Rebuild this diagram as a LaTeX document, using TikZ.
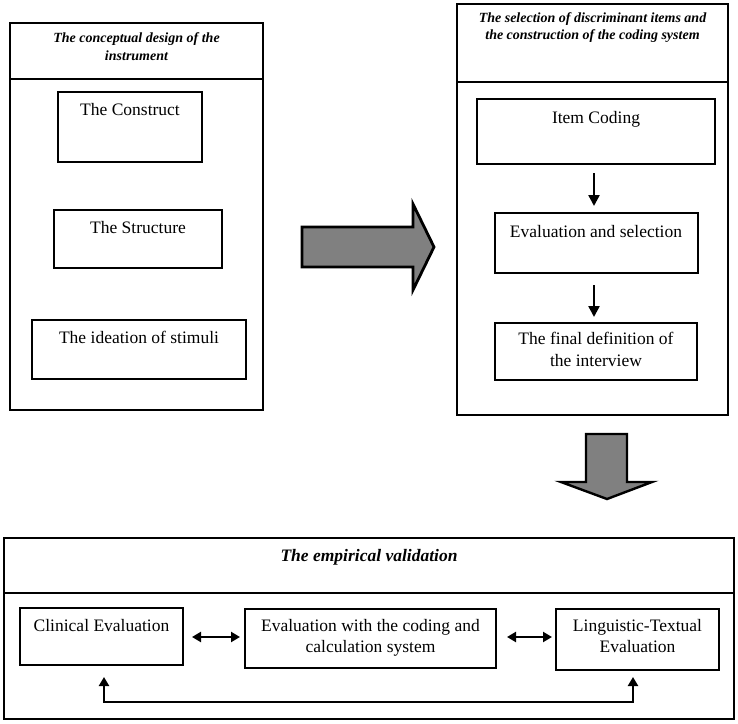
\documentclass[tikz,border=0pt]{standalone}
\usepackage{fontspec}
\setmainfont{Liberation Serif}
\usetikzlibrary{arrows.meta}
\begin{document}
\begin{tikzpicture}[x=1pt,y=-1pt,
  outerbox/.style={draw, line width=2.4pt, inner sep=0pt},
  innerbox/.style={draw, line width=2pt, inner sep=0pt},
  hdr/.style={font=\fontsize{14}{17.5}\selectfont\bfseries\itshape, align=center, inner sep=0pt, anchor=north},
  bighdr/.style={font=\fontsize{17.5}{21}\selectfont\bfseries\itshape, align=center, inner sep=0pt, anchor=north},
  txt/.style={font=\fontsize{17.5}{22}\selectfont, align=center, inner sep=0pt, anchor=north},
  btxt/.style={font=\fontsize{17.5}{21.5}\selectfont, align=center, inner sep=0pt, anchor=north},
  blockarrow/.style={draw=black, fill=gray, line width=2.8pt, line join=miter},
  flow/.style={line width=2.4pt, -{Triangle[length=11pt,width=11pt]}},
  dbl/.style={line width=2.2pt, {Triangle[length=9pt,width=10pt]}-{Triangle[length=9pt,width=10pt]}}
]
\useasboundingbox (0,0) rectangle (738,723);

% ---------- left panel ----------
\node[outerbox, minimum width=253pt, minimum height=56pt] (lhead) at (136.5,51) {};
\node[outerbox, minimum width=253pt, minimum height=331pt] (lbody) at (136.5,244.5) {};
\node[hdr] (lheadT) at ([yshift=-11pt]lhead.north) {The conceptual design of the\\instrument};

\node[innerbox, minimum width=144pt, minimum height=70pt] (construct) at (130,127) {};
\node[txt] (constructT) at ([yshift=-12pt]construct.north) {The Construct};
\node[innerbox, minimum width=168pt, minimum height=58pt] (structure) at (138,239) {};
\node[txt] (structureT) at ([yshift=-12pt]structure.north) {The Structure};
\node[innerbox, minimum width=214pt, minimum height=59pt] (ideation) at (139,349.5) {};
\node[txt] (ideationT) at ([yshift=-12pt]ideation.north) {The ideation of stimuli};

% ---------- right panel ----------
\node[outerbox, minimum width=271pt, minimum height=78pt] (rhead) at (592.5,43) {};
\node[outerbox, minimum width=271pt, minimum height=333pt] (rbody) at (592.5,248.5) {};
\node[hdr] (rheadT) at ([yshift=-9.5pt]rhead.north) {The selection of discriminant items and\\the construction of the coding system};

\node[innerbox, minimum width=238pt, minimum height=65pt] (itemc) at (596,131.5) {};
\node[txt] (itemcT) at ([yshift=-13pt]itemc.north) {Item Coding};
\node[innerbox, minimum width=203pt, minimum height=60pt] (evalsel) at (596,243) {};
\node[txt] (evalselT) at ([yshift=-13pt]evalsel.north) {Evaluation and selection};
\node[innerbox, minimum width=202pt, minimum height=57pt] (final) at (596,351.5) {};
\node[txt] (finalT) at ([yshift=-10pt]final.north) {The final definition of\\the interview};

\draw[flow, shorten <=8pt, shorten >=6pt] ([xshift=-2pt]itemc.south) -- ([xshift=-2pt]evalsel.north);
\draw[flow, shorten <=11pt, shorten >=5pt] ([xshift=-2pt]evalsel.south) -- ([xshift=-2pt]final.north);

% ---------- block arrows ----------
\draw[blockarrow] (302,227) -- (413,227) -- (413,204) -- (434,247) -- (413,290) -- (413,267) -- (302,267) -- cycle;
\draw[blockarrow, line width=2.4pt] (586,434) -- (627,434) -- (627,482) -- (652,482) -- (607,499) -- (561,482) -- (586,482) -- cycle;

% ---------- bottom panel ----------
\node[outerbox, minimum width=730pt, minimum height=55pt] (bhead) at (369,565.5) {};
\node[outerbox, minimum width=730pt, minimum height=126pt] (bbody) at (369,656) {};
\node[bighdr] (bheadT) at ([yshift=-12pt]bhead.north) {The empirical validation};

\node[innerbox, minimum width=163pt, minimum height=57pt] (clin) at (101.5,636.5) {};
\node[btxt] (clinT) at ([yshift=-12pt]clin.north) {Clinical Evaluation};
\node[innerbox, minimum width=251pt, minimum height=59pt] (mid) at (370.5,638.5) {};
\node[btxt] (midT) at ([yshift=-11pt]mid.north) {Evaluation with the coding and\\calculation system};
\node[innerbox, minimum width=163pt, minimum height=61pt] (ling) at (637.5,639.5) {};
\node[btxt] (lingT) at ([yshift=-11pt]ling.north) {Linguistic-Textual\\Evaluation};

\draw[dbl, shorten <=8pt, shorten >=4pt] ([yshift=-0.5pt]clin.east) -- ([yshift=-0.5pt]clin.east -| mid.west);
\draw[dbl, shorten <=10pt, shorten >=3pt] ([yshift=-0.5pt]clin.east -| mid.east) -- ([yshift=-0.5pt]clin.east -| ling.west);
\draw[dbl, shorten <=11pt, shorten >=6pt] ([xshift=2.5pt]clin.south) -- ++(0,36) -| ([xshift=-4.5pt]ling.south);
\end{tikzpicture}
\end{document}
